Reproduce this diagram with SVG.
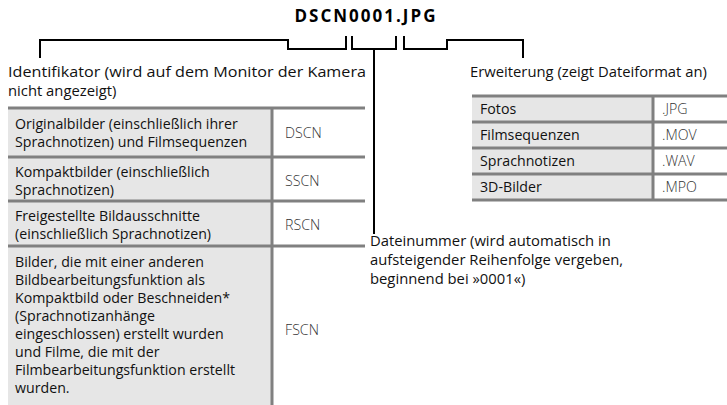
<svg xmlns="http://www.w3.org/2000/svg" width="727" height="405" viewBox="0 0 727 405">
<style>
text{font-family:"Open Sans","Noto Sans","Liberation Sans",sans-serif;font-size:14.2px;fill:#111}
.lbl{font-size:14.8px}
.title{font-weight:bold;font-size:17px;letter-spacing:2px;fill:#000}
.code{font-weight:300;fill:#333}
.cellL{fill:#e6e6e6}
.rule{stroke:#808080;stroke-width:3;fill:none}
.conn{stroke:#000;stroke-width:2;fill:none}
</style>
<rect width="727" height="405" fill="#fff"/>
<g id="title"><text class="title" x="366" y="22" text-anchor="middle">DSCN0001.JPG</text></g>
<g id="connectors">
<path class="conn" d="M40,58 V40 H288 V49 H346 V36"/>
<path class="conn" d="M352,36 V49 H396 V36 M374,49 V234"/>
<path class="conn" d="M404,36 V49 H447 V40 H523 V58"/>
</g>
<g id="identifikator">
<text class="lbl" x="8" y="77" textLength="358" lengthAdjust="spacingAndGlyphs">Identifikator (wird auf dem Monitor der Kamera</text>
<text class="lbl" x="8" y="96">nicht angezeigt)</text>
</g>
<g id="table-left">
<rect class="cellL" x="8" y="108" width="264" height="297"/>
<path class="rule" d="M8,108 H365 M8,157 H365 M8,201 H365 M8,246 H365 M272,108 V405"/>
<text x="15" y="129">Originalbilder (einschließlich ihrer</text>
<text x="15" y="147">Sprachnotizen) und Filmsequenzen</text>
<text class="code" x="285" y="138">DSCN</text>
<text x="15" y="177">Kompaktbilder (einschließlich</text>
<text x="15" y="195">Sprachnotizen)</text>
<text class="code" x="285" y="186">SSCN</text>
<text x="15" y="221">Freigestellte Bildausschnitte</text>
<text x="15" y="239">(einschließlich Sprachnotizen)</text>
<text class="code" x="285" y="230">RSCN</text>
<text x="15" y="267">Bilder, die mit einer anderen</text>
<text x="15" y="285">Bildbearbeitungsfunktion als</text>
<text x="15" y="303">Kompaktbild oder Beschneiden*</text>
<text x="15" y="321">(Sprachnotizanhänge</text>
<text x="15" y="339">eingeschlossen) erstellt wurden</text>
<text x="15" y="357">und Filme, die mit der</text>
<text x="15" y="375">Filmbearbeitungsfunktion erstellt</text>
<text x="15" y="393">wurden.</text>
<text class="code" x="285" y="335">FSCN</text>
</g>
<g id="erweiterung">
<text class="lbl" x="470" y="77">Erweiterung (zeigt Dateiformat an)</text>
</g>
<g id="table-right">
<rect class="cellL" x="472" y="96" width="181" height="104"/>
<path class="rule" d="M472,96 H727 M472,122 H727 M472,148 H727 M472,174 H727 M472,200 H727 M653,96 V200"/>
<text x="480" y="114">Fotos</text><text class="code" x="662" y="114">.JPG</text>
<text x="480" y="140">Filmsequenzen</text><text class="code" x="662" y="140">.MOV</text>
<text x="480" y="166">Sprachnotizen</text><text class="code" x="662" y="166">.WAV</text>
<text x="480" y="192">3D-Bilder</text><text class="code" x="662" y="192">.MPO</text>
</g>
<g id="dateinummer">
<text class="lbl" x="370" y="246">Dateinummer (wird automatisch in</text>
<text class="lbl" x="370" y="265">aufsteigender Reihenfolge vergeben,</text>
<text class="lbl" x="370" y="284">beginnend bei »0001«)</text>
</g>
</svg>
